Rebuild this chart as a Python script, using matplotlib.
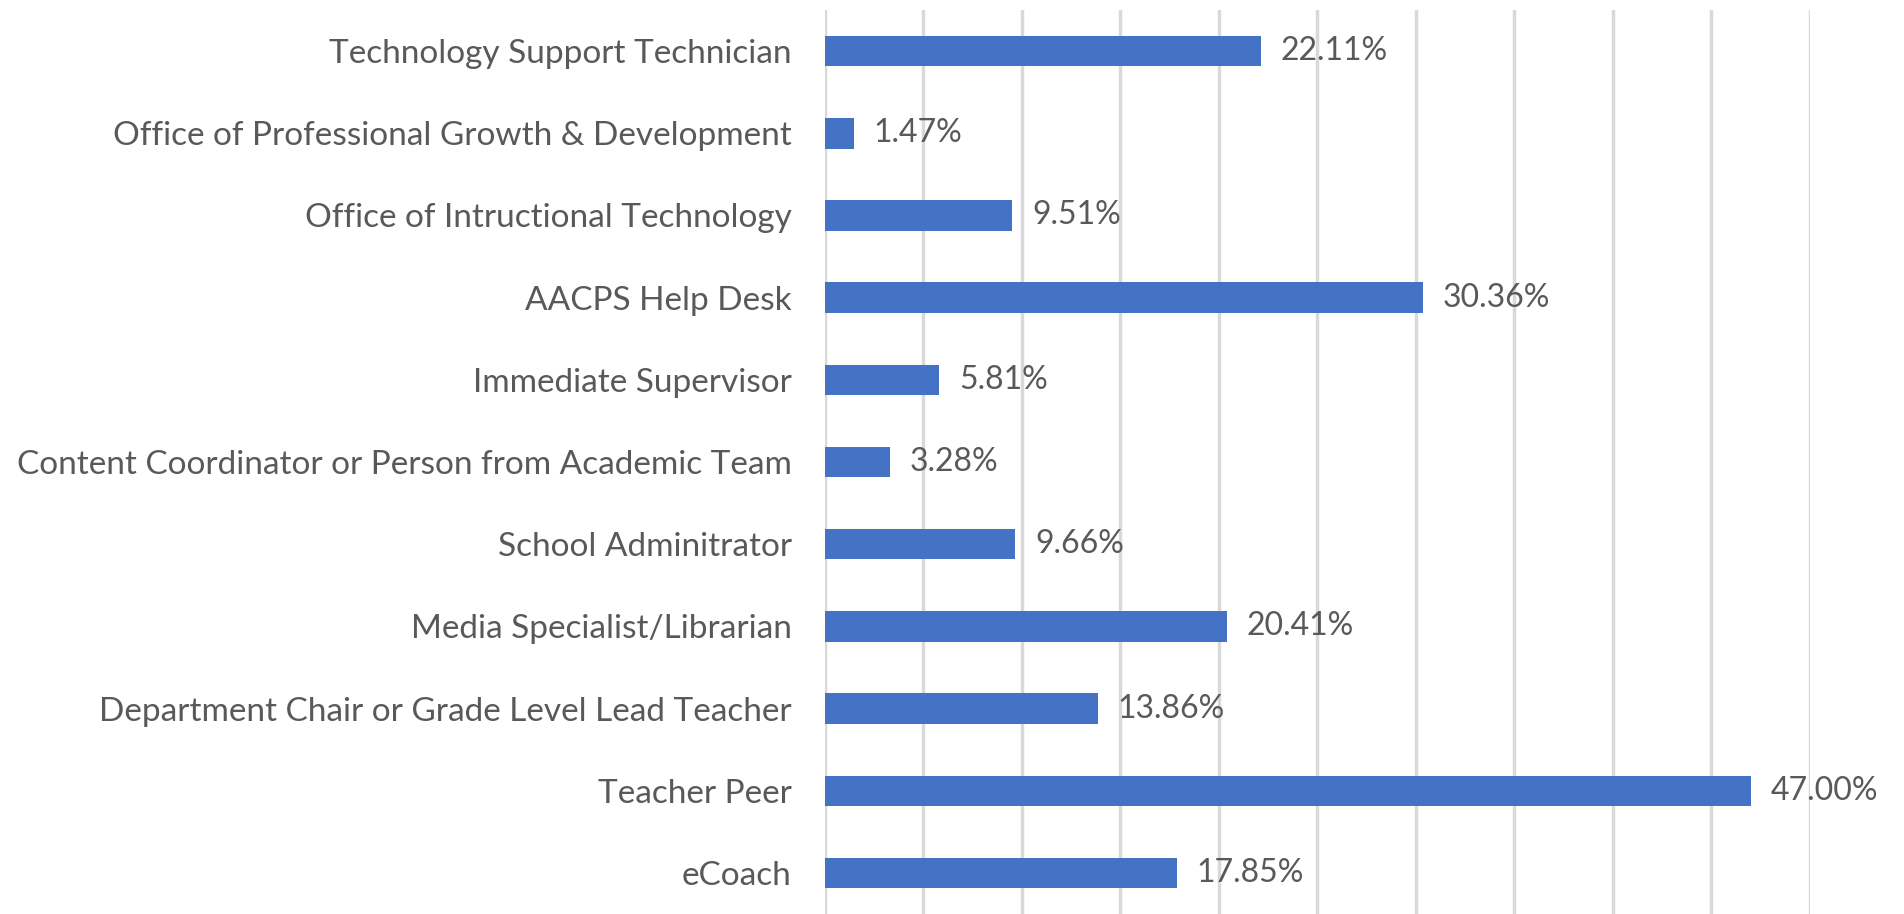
import numpy as np
import matplotlib.pyplot as plt

categories = [
    "eCoach",
    "Teacher Peer",
    "Department Chair or Grade Level Lead Teacher",
    "Media Specialist/Librarian",
    "School Adminitrator",
    "Content Coordinator or Person from Academic Team",
    "Immediate Supervisor",
    "AACPS Help Desk",
    "Office of Intructional Technology",
    "Office of Professional Growth & Development",
    "Technology Support Technician",
]
values = [17.85, 47.00, 13.86, 20.41, 9.66, 3.28, 5.81, 30.36, 9.51, 1.47, 22.11]

text_color = "#595959"
bar_color = "#4472C4"

fig = plt.figure(figsize=(19.04, 9.14), dpi=100)
ax = fig.add_axes([0.4333, 0.0, 0.5173, 0.989])

y = np.arange(len(categories))
ax.barh(y, values, height=0.37, color=bar_color, zorder=3)

ax.set_xlim(0, 50)
ax.set_ylim(-0.5, len(categories) - 0.5)
ax.set_xticks(np.arange(0, 51, 5))
ax.xaxis.grid(True, color="#d9d9d9", linewidth=2.5, zorder=0)
ax.tick_params(axis="x", length=0, labelbottom=False)
ax.tick_params(axis="y", length=0, pad=24, labelsize=24, labelcolor=text_color)
ax.set_yticks(y)
ax.set_yticklabels(categories, fontfamily="Lato")
for s in ax.spines.values():
    s.set_visible(False)

for yi, v in zip(y, values):
    ax.text(v + 1.0, yi, f"{v:.2f}%", va="center", ha="left",
            fontsize=23, color=text_color, fontfamily="Lato")

fig.savefig("out.png", dpi=100)
